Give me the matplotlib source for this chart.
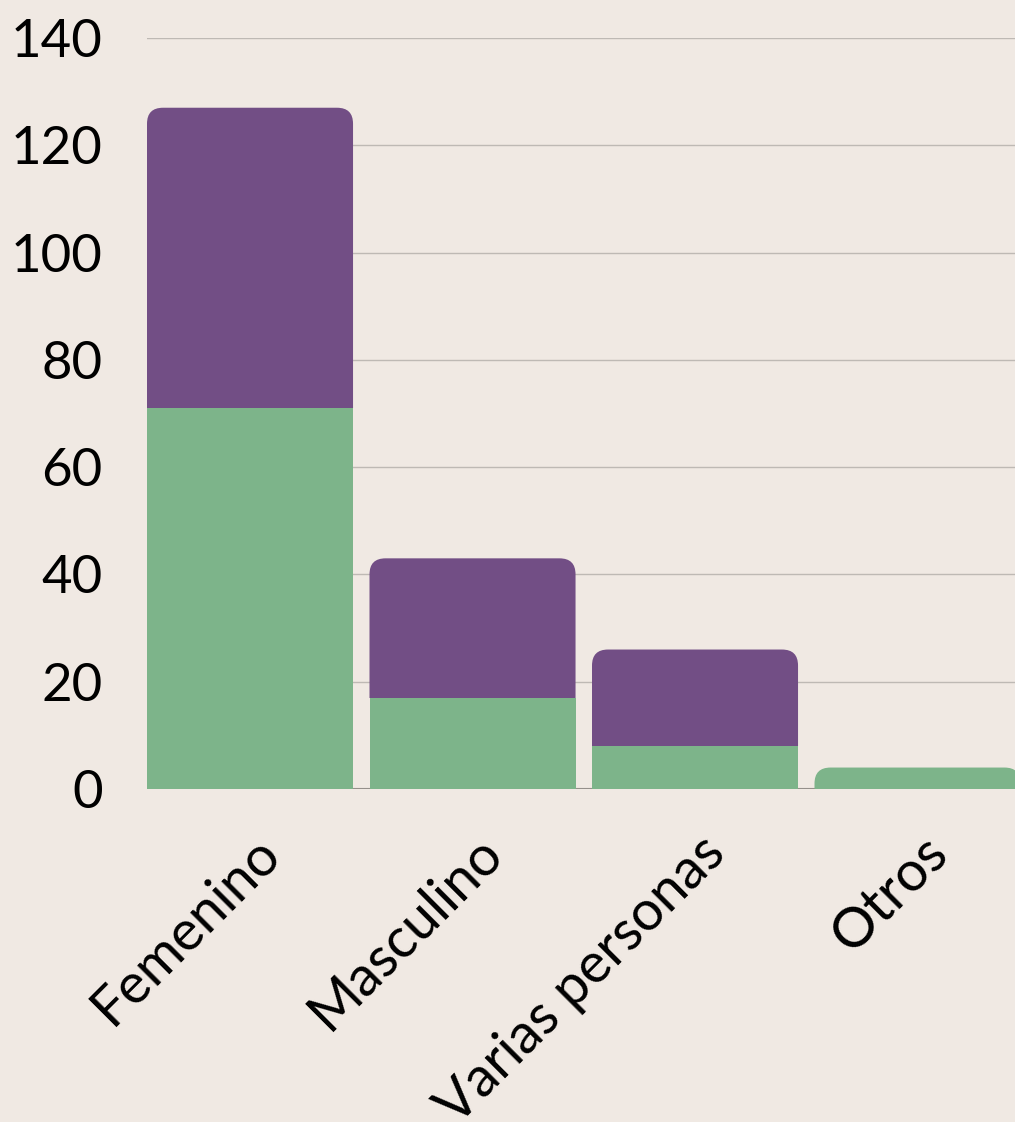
import matplotlib
matplotlib.use("Agg")
import matplotlib.pyplot as plt
import matplotlib.transforms as mtransforms
from matplotlib.patches import FancyBboxPatch, Rectangle

# ---------------------------------------------------------------------------
# Data
# ---------------------------------------------------------------------------
categories = ["Femenino", "Masculino", "Varias personas", "Otros"]
green_vals = [71, 17, 8, 4]
purple_vals = [56, 26, 18, 0]
y_ticks = [0, 20, 40, 60, 80, 100, 120, 140]

# ---------------------------------------------------------------------------
# Style
# ---------------------------------------------------------------------------
BG = "#F0E9E3"
GREEN = "#7DB48A"
PURPLE = "#724E85"
GRID = "#BEB9B4"
BASE = "#8C8782"
TEXT = "#000000"
FONT = ["Lato", "DejaVu Sans"]

plt.rcParams.update({"font.family": FONT})

W, H, DPI = 1015, 1122, 100
fig = plt.figure(figsize=(W / DPI, H / DPI), dpi=DPI, facecolor=BG)
ax = fig.add_axes([147 / W, 333 / H, 890 / W, 751 / H])
ax.set_facecolor(BG)

BAR_W = 0.926
x = list(range(len(categories)))
ax.set_xlim(-BAR_W / 2, len(categories) - BAR_W / 2)
ax.set_ylim(0, 140)

for s in ax.spines.values():
    s.set_visible(False)
ax.set_yticks(y_ticks)
ax.yaxis.grid(True, color=GRID, linewidth=1.0, zorder=0)
ax.set_axisbelow(True)
ax.axhline(0, color=BASE, linewidth=1.5, zorder=0.5)
ax.tick_params(axis="both", length=0)
ax.tick_params(axis="y", pad=32, labelsize=38, labelcolor=TEXT)

# pixel -> data conversion for rounded corners
px_x = (ax.get_xlim()[1] - ax.get_xlim()[0]) / 890
px_y = (ax.get_ylim()[1] - ax.get_ylim()[0]) / 751
RADIUS_PX = 16
rx = RADIUS_PX * px_x
aspect = px_y / px_x

for xi, g, p in zip(x, green_vals, purple_vals):
    total = g + p
    left = xi - BAR_W / 2
    # rounded top segment, extended downward and clipped at its base
    top_color = PURPLE if p > 0 else GREEN
    base = g if p > 0 else 0
    ext = 3 * RADIUS_PX * px_y
    patch = FancyBboxPatch(
        (left, base - ext), BAR_W, total - base + ext,
        boxstyle=f"round,pad=0,rounding_size={rx}",
        mutation_aspect=aspect, facecolor=top_color, edgecolor="none",
        zorder=2,
    )
    ax.add_patch(patch)
    clip = Rectangle((left - 0.05, base), BAR_W + 0.1, 200,
                     transform=ax.transData)
    patch.set_clip_path(clip)
    if p > 0:
        ax.bar(xi, g, width=BAR_W, color=GREEN, zorder=3, linewidth=0)

ax.set_xticks(x)
ax.set_xticklabels(categories, rotation=45, ha="right", va="center",
                   rotation_mode="anchor", fontsize=40, color=TEXT)
ax.tick_params(axis="x", pad=40)
shift = mtransforms.ScaledTranslation(22 / DPI, 0, fig.dpi_scale_trans)
for lbl in ax.get_xticklabels():
    lbl.set_transform(lbl.get_transform() + shift)

fig.savefig("out.png", dpi=DPI, facecolor=BG)
